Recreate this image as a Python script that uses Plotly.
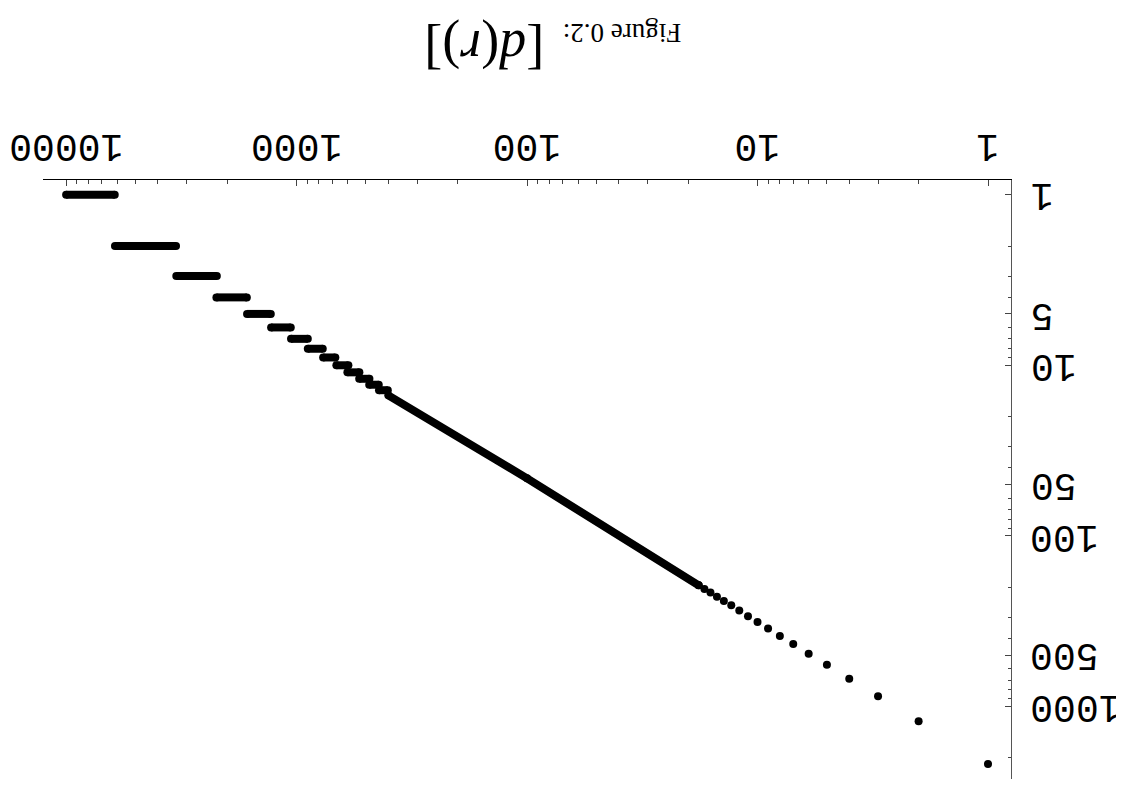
import math
import plotly.graph_objects as go

# ---- data ----
# individual, clearly separated points (rank r, value d)
points_r = [1, 2, 3, 4, 5, 6, 7, 8, 9, 10, 11, 12, 13, 14, 15, 16, 17, 18]
points_d = [2174, 1222, 872, 687, 569, 490, 430, 386, 349, 320, 296, 274, 255, 241, 227, 215, 205, 195]

# plateaus of equal value (value, first rank, last rank)
level_d = [1, 2, 3, 4, 5, 6, 7, 8, 9, 10, 11, 12, 13, 14]
level_r_start = [6152, 3336, 2219, 1644, 1294, 1060, 894, 770, 679, 596, 534, 483, 440, 402]
level_r_end = [10000, 6138, 3326, 2228, 1640, 1290, 1057, 894, 767, 672, 602, 535, 484, 439]

# dense band where the dots merge
band_r = [400, 100, 18]
band_d = [15, 46, 195]

x_tick_vals = [1, 10, 100, 1000, 10000]
x_tick_text = ["1", "10", "100", "1000", "10000"]
y_tick_vals = [1, 5, 10, 50, 100, 500, 1000]
y_tick_text = ["1", "5", "10", "50", "100", "500", "1000"]
x_minor = [m * 10 ** k for k in range(4) for m in range(2, 10)]
y_minor = [m * 10 ** k for k in range(3) for m in (2, 3, 4, 6, 7, 8, 9)] + [2000]

title_prefix = "Figure 0.2:"
title_math = "[<i>d</i>(<i>r</i>)]"

# ---- build traces ----
lx, ly = [], []
for d, s, e in zip(level_d, level_r_start, level_r_end):
    lx += [s, e, None]
    ly += [d, d, None]

fig = go.Figure()
fig.add_trace(go.Scatter(x=lx, y=ly, mode="lines+markers",
                         line=dict(color="black", width=8),
                         marker=dict(color="black", size=8),
                         hoverinfo="skip", showlegend=False))
fig.add_trace(go.Scatter(x=band_r, y=band_d, mode="lines+markers",
                         line=dict(color="black", width=8),
                         marker=dict(color="black", size=8),
                         hoverinfo="skip", showlegend=False))
fig.add_trace(go.Scatter(x=points_r, y=points_d, mode="markers",
                         marker=dict(color="black", size=8),
                         showlegend=False))

fig.update_xaxes(type="log", range=[4.1003, -0.0998], side="top", automargin=False,
                 showgrid=False, zeroline=False,
                 showline=True, linecolor="black", linewidth=1,
                 tickmode="array", tickvals=x_tick_vals, showticklabels=False,
                 ticks="inside", ticklen=6, tickwidth=1, tickcolor="#444",
                 minor=dict(tickmode="array", tickvals=x_minor, ticks="inside",
                            ticklen=3.5, tickwidth=1, tickcolor="#444", showgrid=False))
fig.update_yaxes(type="log", range=[3.425, -0.086], side="right", automargin=False,
                 showgrid=False, zeroline=False,
                 showline=True, linecolor="#555", linewidth=1,
                 tickmode="array", tickvals=y_tick_vals, showticklabels=False,
                 ticks="inside", ticklen=6, tickwidth=1, tickcolor="#444",
                 minor=dict(tickmode="array", tickvals=y_minor, ticks="inside",
                            ticklen=3.5, tickwidth=1, tickcolor="#444", showgrid=False))

tickfont = dict(family="Liberation Mono", size=38, color="black")
# upside-down tick labels (drawn as rotated text at the tick positions)
for v, t in zip(x_tick_vals, x_tick_text):
    fig.add_annotation(text=t, xref="x", yref="paper", x=math.log10(v), y=1.0573,
                       xanchor="center", yanchor="middle", showarrow=False,
                       textangle=180, font=tickfont)
for v, t in zip(y_tick_vals, y_tick_text):
    fig.add_annotation(text=t, xref="paper", yref="y", x=1.0178, y=math.log10(v),
                       xanchor="left", yanchor="middle", showarrow=False,
                       textangle=180, font=tickfont)

# upside-down title in two parts
fig.add_annotation(text=title_prefix, xref="paper", yref="paper", x=0.5983, y=1.2451,
                   xanchor="center", yanchor="middle", showarrow=False, textangle=180,
                   font=dict(family="Liberation Serif", size=27, color="black"))
fig.add_annotation(text=title_math, xref="paper", yref="paper", x=0.4562, y=1.2175,
                   xanchor="center", yanchor="middle", showarrow=False, textangle=180,
                   font=dict(family="Liberation Serif", size=54, color="black"))

# the page body adds an 8px offset; margins compensate so the plot area
# sits where the reference has it
fig.update_layout(width=1124, height=786,
                  margin=dict(l=35, r=121.3, t=172.3, b=14.7),
                  paper_bgcolor="white", plot_bgcolor="white")

fig.write_html("out.html")
